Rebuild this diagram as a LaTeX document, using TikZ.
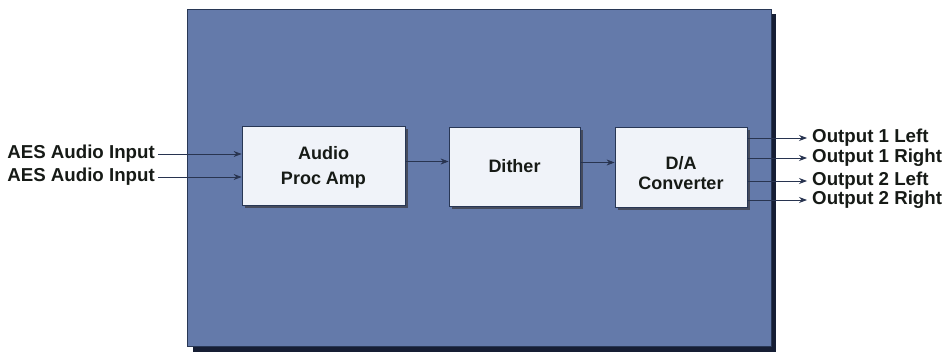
\documentclass[tikz,border=0pt]{standalone}
\usepackage{fontspec}
\setmainfont{Liberation Sans}
\usetikzlibrary{arrows.meta,calc}
\definecolor{panel}{RGB}{100,122,170}
\definecolor{panelshadow}{RGB}{22,30,52}
\definecolor{boxfill}{RGB}{240,243,249}
\definecolor{boxedge}{RGB}{40,55,85}
\definecolor{wire}{RGB}{40,52,80}
\definecolor{txt}{RGB}{22,26,22}
\tikzset{
  blk/.style={draw=boxedge, line width=0.8pt, fill=boxfill, minimum width=#1, minimum height=80pt, inner sep=0pt,
    align=center, font=\fontsize{18}{24}\selectfont\bfseries, text=txt},
  lbl/.style={font=\fontsize{18.7}{20}\selectfont\bfseries, text=txt, inner sep=0pt},
  wirearrow/.style={draw=wire, line width=0.8pt, -{Stealth[length=8pt,width=6pt]}},
}
\begin{document}
\begin{tikzpicture}[x=1pt,y=-1pt]
\useasboundingbox (0,0) rectangle (945,356);
% panel with shadow
\fill[panelshadow] (193,14) rectangle (776,352);
\fill[panel, draw=boxedge, line width=0.6pt] (187,9) rectangle (771,346);
% box shadows
\fill[panelshadow!80] (245,129) rectangle (408,208);
\fill[panelshadow!80] (452,130) rectangle (583,209);
\fill[panelshadow!80] (618,130) rectangle (750,210);
% blocks
\node[blk=163pt, minimum height=79pt] (amp) at (323.5,165.5) {};
\node[font=\fontsize{18}{25}\selectfont\bfseries, text=txt, align=center, inner sep=0pt] (ampt) at (323.5,167) {Audio\\Proc Amp};
\node[blk=131pt, minimum height=79pt] (dith) at (514.5,166.5) {Dither};
\node[blk=132pt, minimum height=80pt] (dac) at (681,167) {};
\node[font=\fontsize{18}{20}\selectfont\bfseries, text=txt, align=center, inner sep=0pt] (dact) at (681,173) {D/A\\Converter};
% input labels
\node[lbl, anchor=east] (in1) at (155,154) {AES Audio Input};
\node[lbl, anchor=east] (in2) at (155,177) {AES Audio Input};
\draw[wirearrow] ([xshift=3pt]in1.east) -- (in1.east -| amp.west);
\draw[wirearrow] ([xshift=3pt]in2.east) -- (in2.east -| amp.west);
% inter-block arrows
\draw[wirearrow] ([yshift=4pt]amp.east) -- ([yshift=4pt]amp.east -| dith.west);
\draw[wirearrow] ([yshift=4pt]dith.east) -- ([yshift=4pt]dith.east -| dac.west);
% outputs
\node[lbl, anchor=west] (o1) at (812,138) {Output 1 Left};
\node[lbl, anchor=west] (o2) at (812,158) {Output 1 Right};
\node[lbl, anchor=west] (o3) at (812,181) {Output 2 Left};
\node[lbl, anchor=west] (o4) at (812,200) {Output 2 Right};
\foreach \o in {o1,o2,o3,o4}{
  \draw[wirearrow] (\o.west -| dac.east) -- ([xshift=-5pt]\o.west);
}
\end{tikzpicture}
\end{document}
